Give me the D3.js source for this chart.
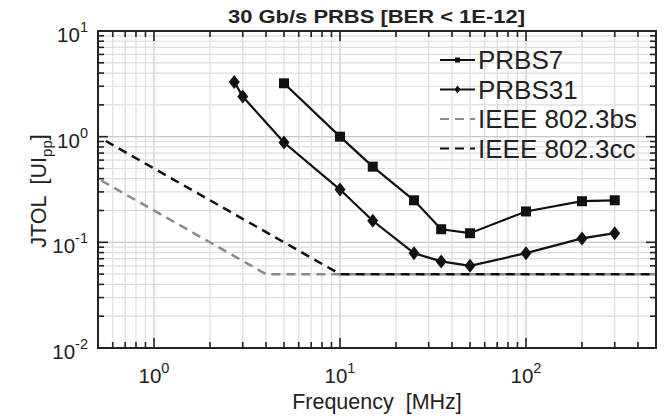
<!DOCTYPE html>
<html>
<head>
<meta charset="utf-8">
<script src="https://cdn.jsdelivr.net/npm/d3@7"></script>
<style>
  body { margin: 0; background: #fff; }
  svg { display: block; font-family: Arial, "Liberation Sans", sans-serif; }
</style>
</head>
<body>
<svg width="667" height="419"></svg>
<script>
// data
const prbs7Freq = [5, 10, 15, 25, 35, 50, 100, 200, 300];
const prbs7Jtol = [3.2, 1.0, 0.52, 0.25, 0.133, 0.122, 0.196, 0.245, 0.25];
const prbs31Freq = [2.7, 3.0, 5, 10, 15, 25, 35, 50, 100, 200, 300];
const prbs31Jtol = [3.3, 2.4, 0.88, 0.316, 0.16, 0.079, 0.066, 0.06, 0.079, 0.109, 0.122];
const bsFreq = [0.52, 4, 500];
const bsJtol = [0.385, 0.05, 0.05];
const ccFreq = [0.55, 10, 500];
const ccJtol = [0.91, 0.05, 0.05];
const xTicks = [1, 10, 100];
const yTicks = [0.01, 0.1, 1, 10];

const width = 667, height = 419;
const margin = {top: 31, right: 11, bottom: 71, left: 98};
const plotW = width - margin.left - margin.right,
      plotH = height - margin.top - margin.bottom;

const svg = d3.select('svg');

const x = d3.scaleLog().domain([0.5, 500]).range([0, plotW]);
const y = d3.scaleLog().domain([0.01, 10]).range([plotH, 0]);

const g = svg.append("g")
    .attr("transform", `translate(${margin.left}, ${margin.top})`);

// minor / major values
const xMinor = [];
for (let e = -1; e <= 2; e++) for (let m = 1; m < 10; m++) {
  const v = m * Math.pow(10, e);
  if (v >= 0.5 && v <= 500) xMinor.push(v);
}
const yMinor = [];
for (let e = -2; e <= 0; e++) for (let m = 1; m < 10; m++) yMinor.push(m * Math.pow(10, e));
yMinor.push(10);

// grid
g.append("g").selectAll("line").data(xMinor).join("line")
    .attr("x1", d => x(d)).attr("x2", d => x(d))
    .attr("y1", 0).attr("y2", plotH)
    .attr("stroke", d => xTicks.includes(d) ? "#c8c8c8" : "#dedede")
    .attr("stroke-width", 1.2);
g.append("g").selectAll("line").data(yMinor).join("line")
    .attr("x1", 0).attr("x2", plotW)
    .attr("y1", d => y(d)).attr("y2", d => y(d))
    .attr("stroke", d => yTicks.includes(d) ? "#c8c8c8" : "#dedede")
    .attr("stroke-width", 1.2);

// ticks inside on all four sides
const isMajorX = d => xTicks.includes(d);
const isMajorY = d => yTicks.includes(d);
const tk = g.append("g").attr("stroke", "#222").attr("stroke-width", 1.6);
tk.selectAll(".xb").data(xMinor).join("line")
    .attr("x1", d => x(d)).attr("x2", d => x(d))
    .attr("y1", plotH).attr("y2", d => plotH - (isMajorX(d) ? 10 : 6));
tk.selectAll(".xt").data(xMinor).join("line")
    .attr("x1", d => x(d)).attr("x2", d => x(d))
    .attr("y1", 0).attr("y2", d => isMajorX(d) ? 10 : 6);
tk.selectAll(".yl").data(yMinor).join("line")
    .attr("y1", d => y(d)).attr("y2", d => y(d))
    .attr("x1", 0).attr("x2", d => isMajorY(d) ? 10 : 6);
tk.selectAll(".yr").data(yMinor).join("line")
    .attr("y1", d => y(d)).attr("y2", d => y(d))
    .attr("x1", plotW).attr("x2", d => plotW - (isMajorY(d) ? 10 : 6));

// lines
const line = d3.line().x(d => x(d[0])).y(d => y(d[1]));
const zip = (a, b) => a.map((v, i) => [v, b[i]]);

g.append("path").datum(zip(bsFreq, bsJtol))
    .attr("d", line).attr("fill", "none")
    .attr("stroke", "#8a8a8a").attr("stroke-width", 2.5)
    .attr("stroke-dasharray", "9,6");
g.append("path").datum(zip(ccFreq, ccJtol))
    .attr("d", line).attr("fill", "none")
    .attr("stroke", "#111").attr("stroke-width", 2.5)
    .attr("stroke-dasharray", "9,6");

g.append("path").datum(zip(prbs7Freq, prbs7Jtol))
    .attr("d", line).attr("fill", "none")
    .attr("stroke", "#111").attr("stroke-width", 2.2);
g.append("path").datum(zip(prbs31Freq, prbs31Jtol))
    .attr("d", line).attr("fill", "none")
    .attr("stroke", "#111").attr("stroke-width", 2.2);

g.append("g").selectAll("rect").data(zip(prbs7Freq, prbs7Jtol)).join("rect")
    .attr("x", d => x(d[0]) - 5).attr("y", d => y(d[1]) - 5)
    .attr("width", 10).attr("height", 10).attr("fill", "#111");
g.append("g").selectAll("path").data(zip(prbs31Freq, prbs31Jtol)).join("path")
    .attr("transform", d => `translate(${x(d[0])}, ${y(d[1])})`)
    .attr("d", "M0,-7L5.5,0L0,7L-5.5,0Z").attr("fill", "#111");

// frame
g.append("rect").attr("width", plotW).attr("height", plotH)
    .attr("fill", "none").attr("stroke", "#222").attr("stroke-width", 2);

// tick labels
const xl = g.append("g").attr("font-size", "20.5px").attr("fill", "#222");
xTicks.forEach(v => {
  const t = xl.append("text").attr("x", x(v)).attr("y", plotH + 35)
      .attr("text-anchor", "middle");
  t.append("tspan").text("10");
  t.append("tspan").attr("dy", -10).attr("font-size", "14.5px").text(Math.round(Math.log10(v)));
});
yTicks.forEach(v => {
  const t = xl.append("text").attr("x", -10).attr("y", y(v) + 11)
      .attr("text-anchor", "end");
  t.append("tspan").text("10");
  t.append("tspan").attr("dy", -10).attr("font-size", "14.5px").text(Math.round(Math.log10(v)));
});

// axis titles
svg.append("text")
    .attr("x", 377).attr("y", 409)
    .attr("text-anchor", "middle").attr("font-size", "21.5px").attr("fill", "#222")
    .attr("xml:space", "preserve")
    .text("Frequency  [MHz]");

const yl = svg.append("text")
    .attr("transform", `translate(46, 191) rotate(-90)`)
    .attr("text-anchor", "middle").attr("font-size", "21.5px").attr("fill", "#222")
    .attr("xml:space", "preserve");
yl.append("tspan").text("JTOL  [UI");
yl.append("tspan").attr("dy", 6).attr("font-size", "15px").text("pp");
yl.append("tspan").attr("dy", -6).text("]");

// title
svg.append("text")
    .attr("x", 228).attr("y", 23)
    .attr("font-size", "19px")
    .attr("textLength", 297).attr("lengthAdjust", "spacingAndGlyphs")
    .attr("font-weight", "bold").attr("fill", "#222")
    .text("30 Gb/s PRBS [BER < 1E-12]");

// legend
const legendItems = [
  {name: "PRBS7", color: "#111", dash: null, marker: "square"},
  {name: "PRBS31", color: "#111", dash: null, marker: "diamond"},
  {name: "IEEE 802.3bs", color: "#8a8a8a", dash: "9,6", marker: null},
  {name: "IEEE 802.3cc", color: "#111", dash: "9,6", marker: null}
];
const lg = svg.append("g").attr("transform", "translate(440, 60)");
legendItems.forEach((it, i) => {
  const row = lg.append("g").attr("transform", `translate(0, ${i * 29.5})`);
  row.append("line").attr("x1", 0).attr("x2", 35).attr("y1", 0).attr("y2", 0)
      .attr("stroke", it.color).attr("stroke-width", 2.2)
      .attr("stroke-dasharray", it.dash);
  if (it.marker === "square")
    row.append("rect").attr("x", 15).attr("y", -2.5).attr("width", 5).attr("height", 5).attr("fill", "#111");
  if (it.marker === "diamond")
    row.append("path").attr("d", "M17.5,-4L20.5,0L17.5,4L14.5,0Z").attr("fill", "#111");
  row.append("text").attr("x", 38).attr("y", 9)
      .attr("font-size", "26px").attr("fill", "#222").text(it.name);
});
</script>
</body>
</html>
